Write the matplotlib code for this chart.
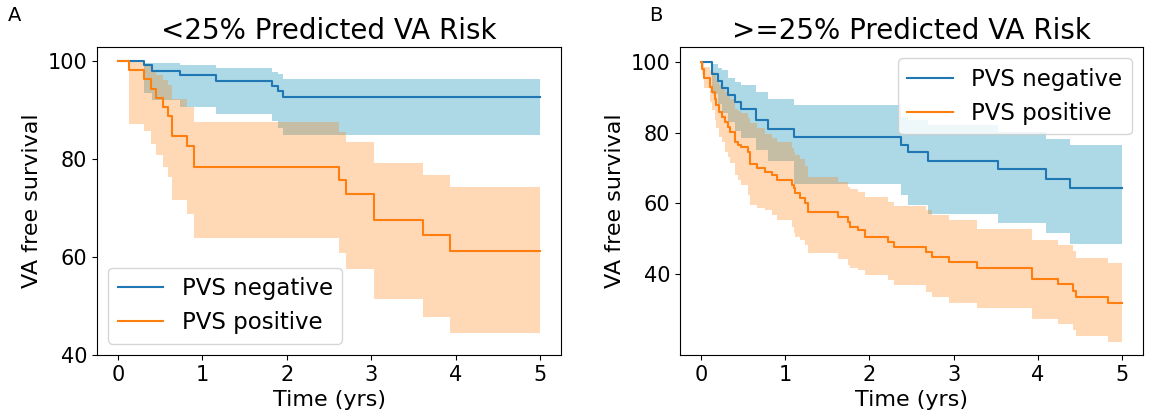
import numpy as np
import matplotlib.pyplot as plt

# Panel A: <25% predicted VA risk  (times in years, survival in %)
a_neg_t = [0, 0.31, 0.40, 0.73, 1.16, 1.82, 1.89, 1.96, 5.0]
a_neg_s = [100, 99.2, 98.0, 97.1, 95.9, 94.9, 93.8, 92.7, 92.7]
a_neg_lo = [100, 93.5, 92.0, 90.6, 89.2, 87.7, 86.3, 84.9, 84.9]
a_neg_hi = [100, 99.6, 99.5, 99.2, 98.6, 97.7, 97.3, 96.3, 96.3]

a_pos_t = [0, 0.127, 0.313, 0.396, 0.444, 0.531, 0.594, 0.642, 0.820, 0.899,
           2.615, 2.702, 3.031, 3.613, 3.938, 5.0]
a_pos_s = [100, 98.1, 96.2, 94.3, 92.4, 90.5, 88.8, 84.7, 82.7, 78.3,
           75.7, 72.9, 67.5, 64.5, 61.3, 61.3]
a_pos_lo = [100, 87.2, 85.7, 83.1, 80.8, 78.4, 76.2, 71.6, 68.8, 63.9,
            60.7, 57.5, 51.4, 47.8, 44.4, 44.4]
a_pos_hi = [100, 100, 99.0, 98.0, 97.0, 96.0, 95.0, 92.1, 90.6, 87.5,
            85.5, 83.4, 79.2, 76.7, 74.3, 74.3]

# Panel B: >=25% predicted VA risk
b_neg_t = [0, 0.13, 0.20, 0.25, 0.32, 0.40, 0.48, 0.65, 0.79, 1.10,
           2.38, 2.46, 2.70, 3.53, 4.10, 4.38, 5.0]
b_neg_s = [100, 96.5, 94.5, 92.5, 90.6, 88.7, 86.8, 83.5, 81.0, 78.8,
           76.4, 74.4, 72.0, 69.6, 66.9, 64.4, 64.4]
b_neg_lo = [100, 91.0, 88.0, 85.5, 83.0, 80.5, 78.5, 75.0, 72.0, 65.5,
            62.3, 59.5, 57.1, 54.3, 51.5, 48.5, 48.5]
b_neg_hi = [100, 99.5, 98.3, 97.8, 95.3, 94.3, 93.4, 91.5, 89.6, 87.8,
            84.5, 83.6, 82.1, 80.2, 78.3, 76.4, 76.4]

b_pos_t = [0, 0.01, 0.04, 0.11, 0.13, 0.17, 0.18, 0.21, 0.25, 0.29, 0.32,
           0.35, 0.40, 0.44, 0.48, 0.56, 0.58, 0.66, 0.76, 0.84, 0.90,
           1.08, 1.10, 1.12, 1.17, 1.24, 1.27, 1.63, 1.75, 1.77, 1.86,
           1.95, 2.22, 2.29, 2.67, 2.74, 2.95, 3.28, 3.93, 4.24, 4.42,
           4.45, 4.83, 5.0]
b_pos_s = [100, 98.1, 95.3, 92.9, 91.5, 89.6, 87.8, 85.9, 84.5, 83.0, 81.6,
           80.2, 77.4, 76.6, 76.0, 74.6, 71.0, 69.9, 68.9, 68.0, 66.6,
           65.1, 64.2, 62.8, 61.4, 60.0, 57.4, 56.0, 54.8, 53.4, 52.4,
           50.5, 49.1, 47.7, 46.3, 44.9, 43.5, 41.8, 38.6, 37.1, 35.2,
           33.6, 31.9, 31.9]
b_pos_lo = [100, 96.7, 92.5, 88.7, 86.3, 83.5, 81.2, 78.8, 77.4, 74.6, 73.2,
            71.3, 68.0, 66.5, 65.1, 62.3, 59.5, 58.8, 58.1, 56.7, 55.3,
            53.4, 51.5, 50.5, 49.6, 48.2, 45.9, 44.2, 42.6, 41.8, 41.0,
            39.7, 38.2, 36.9, 34.9, 33.5, 31.7, 30.3, 27.2, 25.8, 24.3,
            22.6, 20.9, 20.9]
b_pos_hi = [100, 100, 98.6, 97.6, 97.0, 96.2, 95.0, 93.4, 92.5, 91.5, 90.5,
            89.6, 86.8, 86.0, 85.4, 84.0, 82.6, 81.2, 79.7, 78.6, 77.4,
            75.5, 74.5, 73.6, 72.6, 70.5, 67.5, 66.1, 64.5, 64.0, 63.3,
            61.9, 60.5, 59.1, 58.0, 56.7, 55.3, 52.6, 49.6, 48.2, 46.5,
            44.6, 43.0, 43.0]

yticks = [40, 60, 80, 100]


def km_curve(ax, t, s, lo, hi, color, band, alpha, label):
    ax.fill_between(t, lo, hi, step='post', color=band, alpha=alpha, lw=0)
    ax.step(t, s, where='post', color=color, lw=1.5, label=label)


fig = plt.figure(figsize=(11.49, 4.15), dpi=100)
ax1 = fig.add_axes([0.0844, 0.1446, 0.4039, 0.7421])
ax2 = fig.add_axes([0.5918, 0.1446, 0.4030, 0.7421])

km_curve(ax1, a_neg_t, a_neg_s, a_neg_lo, a_neg_hi, '#1f77b4', '#add8e6', 1.0, 'PVS negative')
km_curve(ax1, a_pos_t, a_pos_s, a_pos_lo, a_pos_hi, '#ff7f0e', '#ff7f0e', 0.3, 'PVS positive')
km_curve(ax2, b_neg_t, b_neg_s, b_neg_lo, b_neg_hi, '#1f77b4', '#add8e6', 1.0, 'PVS negative')
km_curve(ax2, b_pos_t, b_pos_s, b_pos_lo, b_pos_hi, '#ff7f0e', '#ff7f0e', 0.3, 'PVS positive')

ax1.set_ylim(40, 102.8)
ax2.set_ylim(17.1, 104.2)
ax1.set_title('<25% Predicted VA Risk', fontsize=20)
ax2.set_title('>=25% Predicted VA Risk', fontsize=20)
ax1.legend(loc='lower left', fontsize=16.5)
ax2.legend(loc='upper right', fontsize=16.5)

for ax in (ax1, ax2):
    ax.set_xlim(-0.25, 5.25)
    ax.set_xticks(range(6))
    ax.set_yticks(yticks)
    ax.tick_params(labelsize=15)
    ax.set_xlabel('Time (yrs)', fontsize=16)
    ax.set_ylabel('VA free survival', fontsize=16)

fig.text(0.007, 0.985, 'A', fontsize=14, va='top')
fig.text(0.565, 0.985, 'B', fontsize=14, va='top')

fig.savefig('out.png', dpi=100)
